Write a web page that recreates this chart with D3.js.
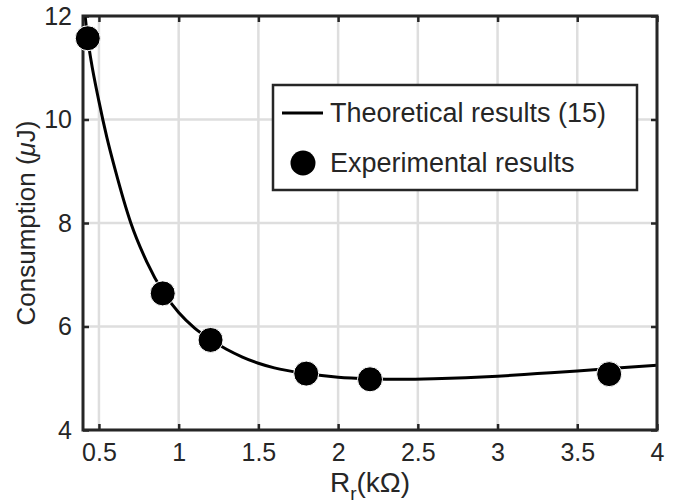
<!DOCTYPE html>
<html>
<head>
<meta charset="utf-8">
<script src="https://cdn.jsdelivr.net/npm/d3@7"></script>
<style>
  body { margin: 0; background: #fff; }
  text { font-family: "Liberation Sans", Arial, sans-serif; fill: #262626; }
</style>
</head>
<body>
<script>
// experimental points
const expR = [0.43, 0.9, 1.2, 1.8, 2.2, 3.7];
const expE = [11.57, 6.64, 5.74, 5.09, 4.98, 5.08];

// theoretical curve (15)
const theoR = [0.41, 0.43, 0.45, 0.5, 0.55, 0.6, 0.7, 0.8, 0.9, 1.0, 1.1, 1.2, 1.3, 1.4, 1.5, 1.6, 1.8, 2.0, 2.2, 2.4, 2.6, 2.8, 3.0, 3.25, 3.5, 3.75, 4.0];
const theoE = [12.1, 11.55, 11.15, 10.35, 9.65, 9.05, 8.0, 7.25, 6.68, 6.27, 5.97, 5.75, 5.56, 5.41, 5.29, 5.2, 5.09, 5.02, 4.99, 4.98, 4.99, 5.01, 5.04, 5.09, 5.14, 5.2, 5.25];

const xTicks = [0.5, 1, 1.5, 2, 2.5, 3, 3.5, 4];
const yTicks = [4, 6, 8, 10, 12];

const W = 677, H = 504;
const m = { left: 83, right: 20, top: 16, bottom: 74 };

const svg = d3.select("body").append("svg")
    .attr("width", W)
    .attr("height", H);

const x = d3.scaleLinear().domain([0.4, 4]).range([m.left, W - m.right]);
const y = d3.scaleLinear().domain([4, 12]).range([H - m.bottom, m.top]);

// grid
svg.append("g").selectAll("line")
  .data(xTicks)
  .enter().append("line")
    .attr("x1", d => x(d)).attr("x2", d => x(d))
    .attr("y1", y(4)).attr("y2", y(12))
    .attr("stroke", "#dedede").attr("stroke-width", 2.5);
svg.append("g").selectAll("line")
  .data(yTicks)
  .enter().append("line")
    .attr("x1", x(0.4)).attr("x2", x(4))
    .attr("y1", d => y(d)).attr("y2", d => y(d))
    .attr("stroke", "#dedede").attr("stroke-width", 2.5);

// axes
const axisStyle = g => {
  g.select(".domain").remove();
  g.selectAll(".tick line").attr("stroke", "#262626").attr("stroke-width", 2.5);
  g.selectAll(".tick text").attr("font-size", 25).attr("fill", "#262626")
    .style("font-family", "'Liberation Sans', Arial, sans-serif");
};
svg.append("g")
    .attr("transform", `translate(0,${y(4)})`)
    .call(d3.axisBottom(x).tickValues(xTicks).tickSizeInner(-6).tickSizeOuter(0).tickPadding(13).tickFormat(d3.format("")))
    .call(axisStyle);
svg.append("g")
    .attr("transform", `translate(0,${y(12)})`)
    .call(d3.axisTop(x).tickValues(xTicks).tickSizeInner(-6).tickSizeOuter(0).tickFormat(""))
    .call(axisStyle);
svg.append("g")
    .attr("transform", `translate(${x(0.4)},0)`)
    .call(d3.axisLeft(y).tickValues(yTicks).tickSizeInner(-6).tickSizeOuter(0).tickPadding(11))
    .call(axisStyle);
svg.append("g")
    .attr("transform", `translate(${x(4)},0)`)
    .call(d3.axisRight(y).tickValues(yTicks).tickSizeInner(-6).tickSizeOuter(0).tickFormat(""))
    .call(axisStyle);

// clip for the curve
svg.append("clipPath").attr("id", "clip")
  .append("rect")
    .attr("x", x(0.4)).attr("y", y(12))
    .attr("width", x(4) - x(0.4)).attr("height", y(4) - y(12));

const line = d3.line()
    .x(d => x(d[0]))
    .y(d => y(d[1]))
    .curve(d3.curveMonotoneX);

svg.append("path")
    .datum(theoR.map((r, i) => [r, theoE[i]]))
    .attr("clip-path", "url(#clip)")
    .attr("fill", "none")
    .attr("stroke", "#000")
    .attr("stroke-width", 3)
    .attr("d", line);

// box
svg.append("rect")
    .attr("x", x(0.4)).attr("y", y(12))
    .attr("width", x(4) - x(0.4)).attr("height", y(4) - y(12))
    .attr("fill", "none").attr("stroke", "#262626").attr("stroke-width", 3);

// experimental markers
svg.append("g").selectAll("circle")
  .data(expR.map((r, i) => [r, expE[i]]))
  .enter().append("circle")
    .attr("cx", d => x(d[0]))
    .attr("cy", d => y(d[1]))
    .attr("r", 12.5)
    .attr("fill", "#000")
    .attr("stroke", "#fff")
    .attr("stroke-width", 1);

// legend
const lg = svg.append("g").attr("transform", "translate(273,85)");
lg.append("rect")
    .attr("width", 364).attr("height", 105)
    .attr("fill", "#fff").attr("stroke", "#262626").attr("stroke-width", 2.5);
lg.append("line")
    .attr("x1", 9).attr("x2", 50).attr("y1", 28).attr("y2", 28)
    .attr("stroke", "#000").attr("stroke-width", 3);
lg.append("text").attr("x", 57).attr("y", 28).attr("dy", "0.35em")
    .attr("font-size", 27).text("Theoretical results (15)");
lg.append("circle").attr("cx", 30).attr("cy", 78).attr("r", 12.5).attr("fill", "#000");
lg.append("text").attr("x", 57).attr("y", 78).attr("dy", "0.35em")
    .attr("font-size", 27).text("Experimental results");

// axis labels
const xl = svg.append("text")
    .attr("x", (x(0.4) + x(4)) / 2)
    .attr("y", 492)
    .attr("text-anchor", "middle")
    .attr("font-size", 28);
xl.append("tspan").text("R");
xl.append("tspan").attr("font-size", 19).attr("dy", 8).text("r");
xl.append("tspan").attr("dy", -8).text("(kΩ)");

const yl = svg.append("text")
    .attr("transform", `translate(35,${(y(4) + y(12)) / 2}) rotate(-90)`)
    .attr("text-anchor", "middle")
    .attr("font-size", 26);
yl.append("tspan").text("Consumption (");
yl.append("tspan").attr("font-style", "italic").text("μ");
yl.append("tspan").text("J)");
</script>
</body>
</html>
